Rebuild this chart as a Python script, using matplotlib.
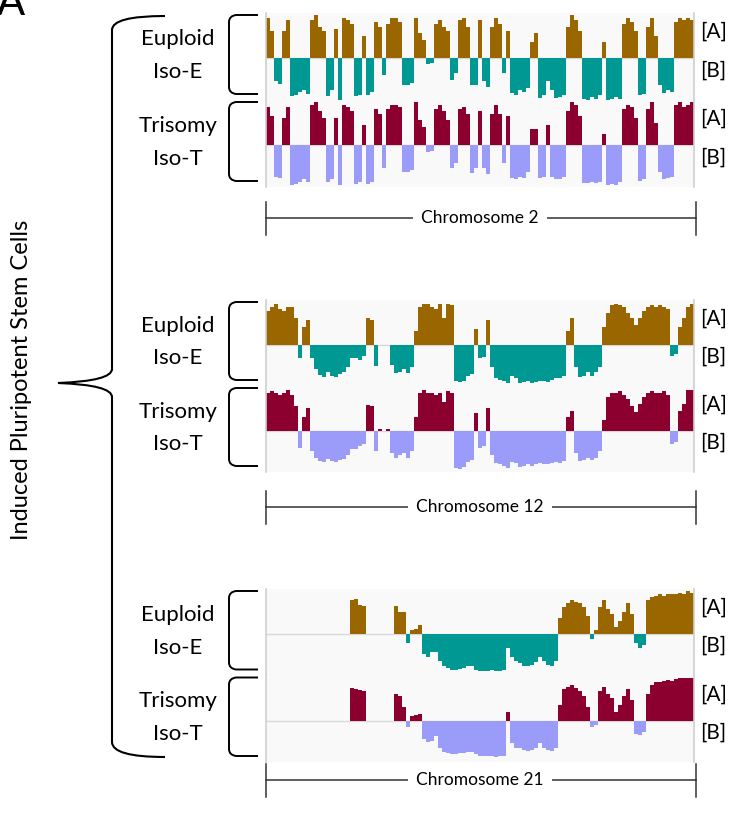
import numpy as np
import matplotlib
matplotlib.use("Agg")
import matplotlib.pyplot as plt
from matplotlib.path import Path
from matplotlib.patches import PathPatch

plt.rcParams['font.family'] = ['Lato', 'DejaVu Sans']

# === DATA (compartment score per bin, + = A, - = B) ===
chr2_euploid = [
    0.88, 0.6, -0.5, -0.56, 0.6, 0.85, -0.84, -0.8, -0.75, -0.7,
    -0.78, 0.85, 0.95, 0.7, 0.6, -0.84, -0.7, 0.65, -0.92, 0.9,
    0.85, 0.75, -0.84, -0.8, 0.5, -0.8, -0.75, 0.8, 0.7, -0.36,
    0.75, 0.9, 0.9, 0.8, -0.6, -0.6, -0.55, 0.9, 0.55, 0.4,
    -0.12, -0.1, 0.75, 0.85, 0.7, 0.6, -0.48, -0.32, 0.85, 0.9,
    0.7, -0.6, -0.6, 0.85, -0.5, -0.64, 0.7, 0.9, 0.75, -0.32,
    0.6, -0.76, -0.8, -0.7, -0.75, -0.65, 0.35, 0.55, -0.88, -0.8,
    -0.5, -0.7, -0.88, -0.85, -0.8, 0.7, 0.95, 0.85, 0.6, -0.9,
    -0.92, -0.85, -0.9, -0.8, 0.35, -0.96, -0.9, -0.85, -0.9, 0.75,
    0.9, 0.8, 0.6, -0.8, -0.78, 0.7, 0.9, 0.5, -0.6, -0.76,
    -0.7, -0.75, 0.8, 0.9, 0.85, 0.9, 0.85]
chr2_trisomy = [
    0.85, 0.65, -0.7, -0.72, 0.6, 0.85, -0.88, -0.85, -0.8, -0.75,
    -0.82, 0.9, 0.95, 0.75, 0.6, -0.8, -0.75, 0.6, -0.88, 0.88,
    0.85, 0.75, -0.85, -0.82, 0.45, -0.85, -0.8, 0.8, 0.7, -0.5,
    0.8, 0.9, 0.9, 0.85, -0.6, -0.6, -0.55, 0.95, 0.55, 0.4,
    -0.15, -0.12, 0.8, 0.9, 0.75, 0.55, -0.5, -0.4, 0.8, 0.85,
    0.7, -0.62, -0.5, 0.75, -0.5, -0.64, 0.7, 0.88, 0.7, -0.4,
    0.65, -0.72, -0.75, -0.7, -0.72, -0.6, 0.35, 0.35, -0.72, -0.7,
    0.45, -0.7, -0.75, -0.74, -0.7, 0.75, 0.95, 0.9, 0.65, -0.84,
    -0.84, -0.8, -0.84, -0.8, 0.25, -0.88, -0.85, -0.88, -0.8, 0.8,
    0.88, 0.85, 0.6, -0.78, -0.75, 0.8, 0.95, 0.5, -0.6, -0.74,
    -0.72, -0.7, 0.9, 0.95, 0.85, 0.9, 0.95]
chr12_euploid = [
    0.75, 0.85, 0.9, 0.8, 0.75, 0.85, 0.85, 0.6, -0.3, 0.4,
    0.55, -0.3, -0.55, -0.68, -0.72, -0.6, -0.7, -0.72, -0.65, -0.6,
    -0.5, -0.3, -0.3, -0.35, -0.25, 0.6, 0.55, -0.48, 0.0, 0.0,
    0.0, -0.45, -0.64, -0.6, -0.55, -0.64, -0.5, 0.3, 0.85, 0.9,
    0.9, 0.85, 0.8, 0.9, 0.6, 0.9, 0.88, -0.8, -0.84, -0.8,
    -0.7, -0.65, 0.35, -0.3, -0.28, 0.55, -0.5, -0.75, -0.78, -0.8,
    -0.85, -0.7, -0.75, -0.85, -0.82, -0.8, -0.85, -0.82, -0.8, -0.8,
    -0.82, -0.78, -0.75, -0.75, -0.7, 0.3, 0.6, -0.5, -0.72, -0.7,
    -0.6, -0.7, -0.6, -0.5, 0.4, 0.7, 0.88, 0.9, 0.88, 0.85,
    0.7, 0.6, 0.45, 0.6, 0.75, 0.85, 0.88, 0.85, 0.88, 0.85,
    0.8, -0.25, -0.2, 0.4, 0.6, 0.85, 0.9]
chr12_trisomy = [
    0.85, 0.88, 0.85, 0.8, 0.85, 0.9, 0.8, 0.55, -0.38, 0.3,
    0.5, -0.45, -0.6, -0.68, -0.7, -0.62, -0.68, -0.7, -0.65, -0.62,
    -0.55, -0.4, -0.4, -0.35, -0.3, 0.58, 0.55, -0.45, 0.05, 0.0,
    0.05, -0.5, -0.6, -0.55, -0.5, -0.6, -0.45, 0.3, 0.85, 0.9,
    0.85, 0.85, 0.8, 0.85, 0.65, 0.88, 0.85, -0.82, -0.85, -0.8,
    -0.7, -0.65, 0.4, -0.38, -0.35, 0.5, -0.55, -0.72, -0.75, -0.78,
    -0.82, -0.7, -0.72, -0.8, -0.78, -0.75, -0.78, -0.75, -0.72, -0.75,
    -0.75, -0.72, -0.7, -0.72, -0.68, 0.3, 0.45, -0.5, -0.68, -0.65,
    -0.6, -0.65, -0.6, -0.45, 0.25, 0.75, 0.85, 0.85, 0.88, 0.8,
    0.7, 0.55, 0.42, 0.6, 0.75, 0.85, 0.88, 0.85, 0.85, 0.88,
    0.8, -0.3, -0.25, 0.45, 0.6, 0.9, 0.9]
chr21_euploid = [
    0, 0, 0, 0, 0, 0, 0, 0, 0, 0,
    0, 0, 0, 0, 0, 0, 0, 0, 0, 0,
    0, 0.75, 0.78, 0.65, 0.62, 0, 0, 0, 0, 0,
    0, 0, 0.62, 0.5, 0.5, -0.2, 0.1, 0.12, 0.2, -0.45,
    -0.5, -0.4, -0.4, -0.6, -0.72, -0.75, -0.8, -0.8, -0.78, -0.75,
    -0.72, -0.72, -0.8, -0.82, -0.82, -0.82, -0.8, -0.82, -0.82, -0.8,
    -0.3, -0.5, -0.6, -0.65, -0.7, -0.72, -0.68, -0.62, -0.5, -0.6,
    -0.68, -0.72, -0.6, 0.35, 0.6, 0.7, 0.75, 0.72, 0.7, 0.6,
    0.4, -0.1, 0.1, 0.6, 0.75, 0.55, 0.45, 0.15, 0.3, 0.5,
    0.7, 0.45, -0.2, -0.3, -0.25, 0.75, 0.82, 0.85, 0.88, 0.85,
    0.9, 0.88, 0.9, 0.92, 0.9, 0.95, 0.92]
chr21_trisomy = [
    0, 0, 0, 0, 0, 0, 0, 0, 0, 0,
    0, 0, 0, 0, 0, 0, 0, 0, 0, 0,
    0, 0.72, 0.7, 0.68, 0.65, 0, 0, 0, 0, 0,
    0, 0, 0.6, 0.55, 0.3, -0.15, 0.1, 0.12, 0.15, -0.4,
    -0.48, -0.45, -0.35, -0.6, -0.7, -0.72, -0.75, -0.75, -0.72, -0.72,
    -0.7, -0.7, -0.75, -0.78, -0.78, -0.78, -0.78, -0.8, -0.78, -0.78,
    0.2, -0.5, -0.6, -0.62, -0.65, -0.68, -0.65, -0.6, -0.5, -0.62,
    -0.65, -0.68, -0.62, 0.35, 0.7, 0.75, 0.8, 0.72, 0.65, 0.55,
    0.3, -0.15, -0.1, 0.65, 0.75, 0.6, 0.5, 0.2, 0.35, 0.55,
    0.7, 0.45, -0.3, -0.32, -0.25, 0.6, 0.8, 0.85, 0.85, 0.88,
    0.9, 0.88, 0.92, 0.95, 0.95, 0.95, 0.95]

chromosomes = ["Chromosome 2", "Chromosome 12", "Chromosome 21"]
euploid_tracks = [chr2_euploid, chr12_euploid, chr21_euploid]
trisomy_tracks = [chr2_trisomy, chr12_trisomy, chr21_trisomy]

# colours [A] / [B]
EUP_A, EUP_B = "#9a6600", "#009893"
TRI_A, TRI_B = "#8c0030", "#9b9bfa"

# === LAYOUT (pixels) ===
W, H = 738, 813
X0, X1 = 266, 694
# (panel top, panel bottom, scale bar y)
panels = [(13, 187, 218), (300, 472, 507), (589, 762, 780)]

fig = plt.figure(figsize=(W / 100, H / 100), dpi=100)


def add_track(top, height, values, col_a, col_b):
    ax = fig.add_axes([X0 / W, 1 - (top + height) / H, (X1 - X0) / W, height / H])
    ax.set_facecolor("#f9f9f9")
    v = np.array(values, dtype=float)
    x = np.arange(len(v))
    ax.axhline(0, color="#d8d8d8", lw=1, zorder=1)
    ax.bar(x, np.where(v > 0, v, 0), width=1.0, color=col_a, lw=0, zorder=2)
    ax.bar(x, np.where(v < 0, v, 0), width=1.0, color=col_b, lw=0, zorder=2)
    ax.set_xlim(-0.5, len(v) - 0.5)
    ax.set_ylim(-0.92, 1.0)
    ax.set_xticks([])
    ax.set_yticks([])
    for s in ["top", "bottom"]:
        ax.spines[s].set_visible(False)
    for s in ["left", "right"]:
        ax.spines[s].set_color("#cfcfcf")
        ax.spines[s].set_linewidth(1.2)
    return ax


for (top, bottom, sy), eup, tri in zip(panels, euploid_tracks, trisomy_tracks):
    h = (bottom - top) / 2
    add_track(top, h, eup, EUP_A, EUP_B)
    add_track(top + h, h, tri, TRI_A, TRI_B)

# overlay in pixel coordinates for labels, brackets, scale bars
ov = fig.add_axes([0, 0, 1, 1], zorder=10)
ov.set_xlim(0, W)
ov.set_ylim(H, 0)
ov.axis("off")
ov.patch.set_alpha(0)


def bracket(x_left, x_right, y0, y1):
    r = 7
    verts = [(x_right, y0), (x_left + r, y0), (x_left, y0 + 1), (x_left, y0 + r),
             (x_left, y1 - r), (x_left, y1 - 1), (x_left + r, y1), (x_right, y1)]
    codes = [Path.MOVETO, Path.LINETO, Path.CURVE3, Path.CURVE3,
             Path.LINETO, Path.CURVE3, Path.CURVE3, Path.LINETO]
    ov.add_patch(PathPatch(Path(verts, codes), fc="none", ec="black", lw=1.4))


fs_lab = 16
fs_ab = 15
for (top, bottom, sy), name in zip(panels, chromosomes):
    h = (bottom - top) / 2
    for k, (l1, l2) in enumerate([("Euploid", "Iso-E"), ("Trisomy", "Iso-T")]):
        t = top + k * h
        bracket(229, 258, t + 2, t + h - 6)
        ov.text(178, t + h * 0.30, l1, ha="center", va="center", fontsize=fs_lab)
        ov.text(178, t + h * 0.68, l2, ha="center", va="center", fontsize=fs_lab)
        ov.text(700, t + h * 0.22, "[A]", ha="left", va="center", fontsize=fs_ab)
        ov.text(700, t + h * 0.66, "[B]", ha="left", va="center", fontsize=fs_ab)
    # chromosome scale bar
    ov.plot([X0, X1 + 2], [sy, sy], color="#333333", lw=1.1)
    ov.plot([X0, X0], [sy - 16, sy + 17], color="#333333", lw=1.1)
    ov.plot([X1 + 2, X1 + 2], [sy - 16, sy + 17], color="#333333", lw=1.1)
    ov.text((X0 + X1) / 2 + 0, sy, name, ha="center", va="center", fontsize=12.5,
            bbox=dict(fc="white", ec="none", pad=6))

# big brace
bx, tip_x, tip_y = 112, 58, 383
verts = [(165, 16), (112, 16), (bx, 30),
         (bx, tip_y - 14), (bx, tip_y - 2), (tip_x, tip_y),
         (bx, tip_y + 2), (bx, tip_y + 14),
         (bx, 742), (112, 757), (165, 757)]
codes = [Path.MOVETO, Path.CURVE3, Path.CURVE3,
         Path.LINETO, Path.CURVE3, Path.CURVE3,
         Path.CURVE3, Path.CURVE3,
         Path.LINETO, Path.CURVE3, Path.CURVE3]
ov.add_patch(PathPatch(Path(verts, codes), fc="none", ec="black", lw=1.5))

ov.text(22, 380, "Induced Pluripotent Stem Cells", rotation=90, ha="center",
        va="center", fontsize=17)
ov.text(-3, 22, "A", ha="left", va="bottom", fontsize=30)

fig.savefig("out.png", dpi=100)
